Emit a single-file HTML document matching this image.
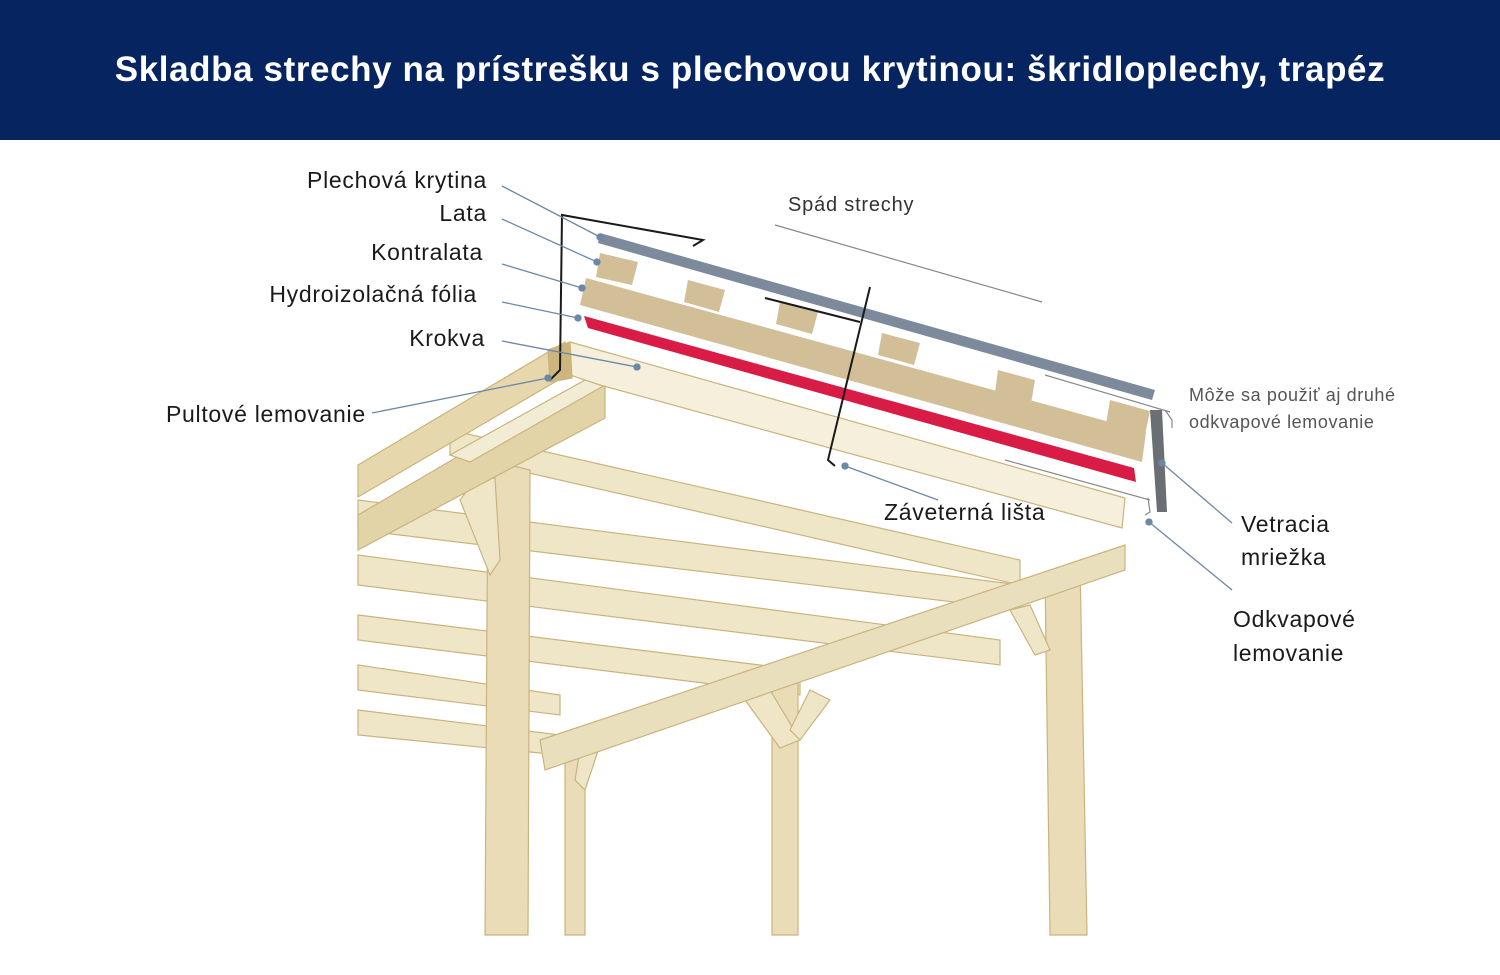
<!DOCTYPE html>
<html><head><meta charset="utf-8"><style>
body{margin:0;width:1500px;height:975px;background:#fff;overflow:hidden;font-family:"Liberation Sans",sans-serif}
.hd{position:absolute;left:0;top:0;width:1500px;height:140px;background:#062460;color:#fff;font-weight:bold;font-size:35px;text-align:center;line-height:140px;letter-spacing:0.6px}
svg{position:absolute;left:0;top:0}
</style></head><body>
<div class="hd">Skladba strechy na prístrešku s plechovou krytinou: škridloplechy, trapéz</div>
<svg width="1500" height="975" viewBox="0 0 1500 975" font-family="Liberation Sans, sans-serif">
<g stroke="#c9b47e" stroke-width="1.2" fill="#efe6c8">
<polygon points="358,500 1020,585 1020,610 358,530"/>
<polygon points="358,555 1000,640 1000,665 358,585"/>
<polygon points="358,615 800,670 800,695 358,640"/>
<polygon points="358,665 560,695 560,715 358,690"/>
<polygon points="358,710 560,735 560,755 358,735"/>
<polygon points="450,430 1020,560 1020,585 450,455"/>
<polygon points="488,460 530,470 528,935 485,935" fill="#e9dcb6"/>
<polygon points="565,745 585,740 585,935 565,935" fill="#e9dcb6"/>
<polygon points="772,690 798,682 798,935 772,935" fill="#e9dcb6"/>
<polygon points="1045,575 1080,565 1087,935 1050,935" fill="#e9dcb6"/>
<polygon points="475,480 495,478 500,560 490,575 460,500"/>
<polygon points="745,700 770,690 800,740 780,748"/>
<polygon points="810,690 830,700 800,740 790,730"/>
<polygon points="1010,610 1030,605 1050,650 1035,655"/>
<polygon points="580,750 600,745 585,790 575,780"/>
<polygon points="540,740 1125,545 1125,570 545,770" fill="#eadfbc"/>
<!-- side rafter -->
<polygon points="358,465 565,342 572,372 358,497" fill="#e6d7ac"/>
<!-- top beam -->
<polygon points="358,515 585,382 605,385 605,418 358,550" fill="#e3d4a8"/>
<polygon points="450,455 585,380 605,385 470,462" fill="#f3ecd4"/>
<!-- main rafter -->
<polygon points="570,342 1125,498 1122,528 600,385 570,375" fill="#f5efdc"/>
<polygon points="548,350 570,342 572,378 550,382" fill="#cdb57e"/>
</g>
<polygon points="584,316 588,328 1136,482 1134,468" fill="#d81c45"/>
<polygon points="586,278 1146,432 1142,462 580,305" fill="#d2bf98"/>
<g fill="#d2bf98">
<polygon points="600,253 638,262 632,285 596,277"/>
<polygon points="688,280 725,290 719,312 684,302"/>
<polygon points="780,302 818,312 812,334 776,324"/>
<polygon points="882,333 920,343 914,365 878,355"/>
<polygon points="998,370 1035,380 1030,410 994,400"/>
<polygon points="1110,400 1150,411 1145,435 1106,424"/>
</g>
<polygon points="600,233 1155,390 1152,400 598,243" fill="#7d8a9b"/>
<polygon points="1150,410 1162,410 1167,512 1157,512" fill="#6b6e72"/>
<g fill="none" stroke="#1a1a1a" stroke-width="2">
<polyline points="550,380 560,370 562,215 703,240 693,246"/>
<polyline points="870,287 828,460 835,466"/>
<line x1="765" y1="298" x2="860" y2="322"/>
</g>
<g fill="none" stroke="#888" stroke-width="1.2">
<line x1="775" y1="225" x2="1042" y2="302"/>
<line x1="1045" y1="375" x2="1170" y2="412"/>
<polyline points="1165,410 1172,420 1172,428"/>
<line x1="1005" y1="460" x2="1150" y2="500"/>
<polyline points="1148,498 1150,512 1145,515"/>
</g>
<g stroke="#6b88a6" stroke-width="1.3" fill="#6b88a6">
<line x1="502" y1="186" x2="600" y2="237"/><circle cx="600" cy="237" r="3"/>
<line x1="502" y1="219" x2="597" y2="262"/><circle cx="597" cy="262" r="3"/>
<line x1="502" y1="264" x2="582" y2="288"/><circle cx="582" cy="288" r="3"/>
<line x1="502" y1="302" x2="578" y2="318"/><circle cx="578" cy="318" r="3"/>
<line x1="502" y1="341" x2="637" y2="367"/><circle cx="637" cy="367" r="3"/>
<line x1="372" y1="413" x2="548" y2="378"/><circle cx="548" cy="378" r="3"/>
<line x1="938" y1="500" x2="845" y2="466"/><circle cx="845" cy="466" r="3"/>
<line x1="1232" y1="523" x2="1162" y2="463"/><circle cx="1162" cy="463" r="3"/>
<line x1="1232" y1="590" x2="1149" y2="522"/><circle cx="1149" cy="522" r="3"/>
</g>
<g font-size="23" fill="#1a1a1a" letter-spacing="0.7">
<text x="487" y="188" text-anchor="end">Plechová krytina</text>
<text x="487" y="221" text-anchor="end">Lata</text>
<text x="483" y="260" text-anchor="end">Kontralata</text>
<text x="477" y="302" text-anchor="end">Hydroizolačná fólia</text>
<text x="485" y="346" text-anchor="end">Krokva</text>
<text x="166" y="422">Pultové lemovanie</text>
<text x="884" y="520">Záveterná lišta</text>
<text x="1241" y="532">Vetracia</text>
<text x="1241" y="565">mriežka</text>
<text x="1233" y="627">Odkvapové</text>
<text x="1233" y="661">lemovanie</text>
</g>
<g font-size="20" fill="#333" letter-spacing="0.8"><text x="788" y="211">Spád strechy</text></g>
<g font-size="18" fill="#555" letter-spacing="0.6"><text x="1189" y="401">Môže sa použiť aj druhé</text><text x="1189" y="428">odkvapové lemovanie</text></g>
</svg>
</body></html>
